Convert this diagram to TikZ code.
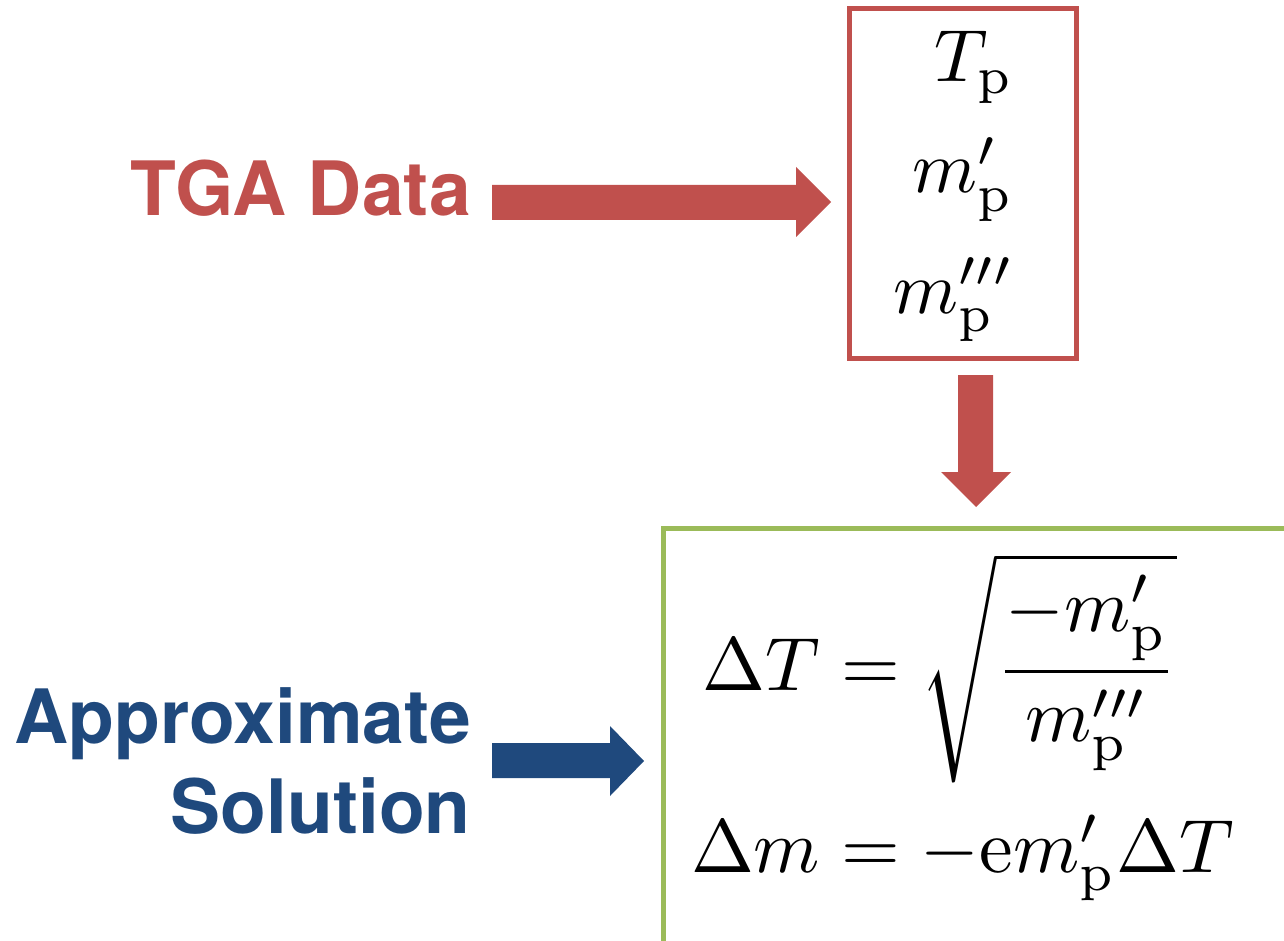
\documentclass[tikz,border=0pt]{standalone}
\usepackage{amsmath}
\usepackage{graphicx}
\usepackage{fontspec}
\newfontfamily\headfont{TeX Gyre Heros}
\definecolor{tgared}{HTML}{C0504D}
\definecolor{solblue}{HTML}{1F497D}
\definecolor{boxgreen}{HTML}{9BBB59}
\newcommand{\boxmath}[1]{\scalebox{7.4}{#1}}
\newcommand{\eqmath}[1]{\scalebox{7.55}{#1}}
\tikzset{
  headtext/.style={font=\headfont\bfseries\fontsize{75}{90}\selectfont, inner sep=0pt, anchor=base east},
  mathtext/.style={inner sep=0pt},
  blockarrow/.style={draw=none},
}
\begin{document}
\begin{tikzpicture}[x=1pt,y=-1pt]
\useasboundingbox (0,0) rectangle (1284,941);
\clip (0,0) rectangle (1284,941);
% labels
\node[headtext, text=tgared] (tga) at (471,216) {TGA Data};
\node[headtext, text=solblue] (approx) at (471,743) {Approximate};
\node[headtext, text=solblue] (sol) at (471,833) {Solution};
% red box
\node[draw=tgared, line width=5pt, minimum width=227pt, minimum height=349pt, inner sep=0pt] (params) at (962.5,183.5) {};
\node[mathtext, anchor=base east] (tp) at (1014,82) {\boxmath{$T_{\mathrm{p}}$}};
\node[mathtext, anchor=base east] (mp1) at (1014,193) {\boxmath{$m'_{\mathrm{p}}$}};
\node[mathtext, anchor=base east] (mp3) at (1014,313) {\boxmath{$m'''_{\mathrm{p}}$}};
% green box
\node[draw=boxgreen, line width=5pt, minimum width=640pt, minimum height=440pt, inner sep=0pt, anchor=north west] (sbox) at (661,526) {};
\node[mathtext, anchor=base west] (eq1) at (820,690) {\eqmath{$\llap{$\Delta T$}= \sqrt{\dfrac{-m'_{\mathrm{p}}}{m'''_{\mathrm{p}}}}$}};
\node[mathtext, anchor=base west] (eq2) at (820,872) {\eqmath{$\llap{$\Delta m$}= -\mathrm{e}m'_{\mathrm{p}}\Delta T$}};
% block arrows
\fill[tgared, blockarrow] (492,185) -- (796,185) -- (796,167) -- (831,202) -- (796,237) -- (796,220) -- (492,220) -- cycle;
\fill[tgared, blockarrow] (958,375) -- (993,375) -- (993,472) -- (1011,472) -- (976,507) -- (941,472) -- (958,472) -- cycle;
\fill[solblue, blockarrow] (492,743) -- (610,743) -- (610,726) -- (644,761) -- (610,796) -- (610,778) -- (492,778) -- cycle;
\end{tikzpicture}
\end{document}
